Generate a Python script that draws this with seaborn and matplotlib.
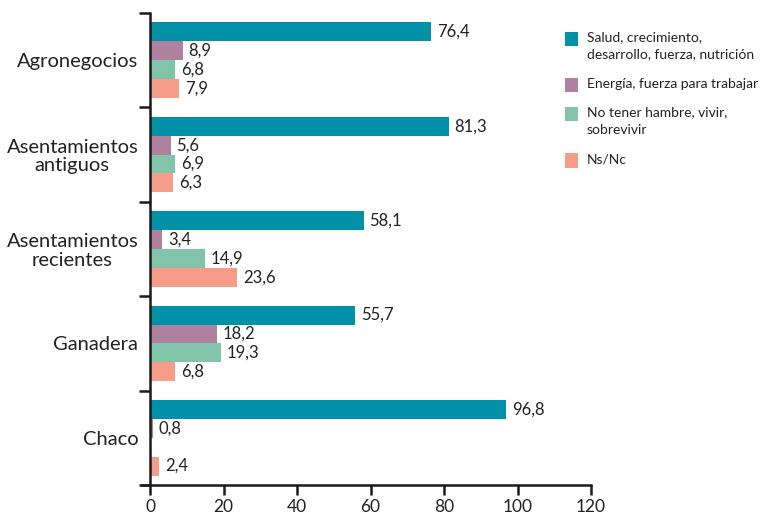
import matplotlib
matplotlib.use("Agg")
import matplotlib.pyplot as plt
from matplotlib.patches import Rectangle
from matplotlib.ticker import FixedLocator
import numpy as np
import pandas as pd
import seaborn as sns

categorias = ["Agronegocios", "Asentamientos\nantiguos", "Asentamientos\nrecientes", "Ganadera", "Chaco"]
series = ["Salud, crecimiento,\ndesarrollo, fuerza, nutrición",
          "Energía, fuerza para trabajar",
          "No tener hambre, vivir,\nsobrevivir",
          "Ns/Nc"]
salud = [76.4, 81.3, 58.1, 55.7, 96.8]
energia = [8.9, 5.6, 3.4, 18.2, 0.8]
hambre = [6.8, 6.9, 14.9, 19.3, np.nan]
nsnc = [7.9, 6.3, 23.6, 6.8, 2.4]
colores = ["#0091A8", "#AE829E", "#82C4AA", "#F69D89"]

valores = [salud, energia, hambre, nsnc]
filas = []
for serie, vals in zip(series, valores):
    for cat, v in zip(categorias, vals):
        filas.append({"categoria": cat, "serie": serie, "valor": v})
df = pd.DataFrame(filas)

sns.set_style("white")
plt.rcParams["font.family"] = ["Lato", "DejaVu Sans"]

W, H = 773, 517
fig = plt.figure(figsize=(W / 100, H / 100), dpi=100)
x0 = 150 - 2.2 * 441 / 120
ax = fig.add_axes([x0 / W, 1 - 485 / H, (591 - x0) / W, (485 - 13) / H])

sns.barplot(data=df, y="categoria", x="valor", hue="serie", order=categorias,
            hue_order=series, palette=colores, orient="h", width=0.8,
            saturation=1, linewidth=0, legend=False, ax=ax)

# value labels at the end of each bar
for cont, vals in zip(ax.containers, valores):
    for bar, v in zip(cont, vals):
        if np.isnan(v):
            continue
        ax.annotate(f"{v:.1f}".replace(".", ","),
                    (bar.get_width(), bar.get_y() + bar.get_height() / 2),
                    xytext=(4.3, 0), textcoords="offset points",
                    va="center", ha="left", fontsize=12, color="#222222")

ax.set_xlim(-2.2, 120)
ax.set_ylim(4.5, -0.5)
ax.set_xticks([0, 20, 40, 60, 80, 100, 120])
ax.set_xlabel("")
ax.set_ylabel("")

for s in ["top", "right"]:
    ax.spines[s].set_visible(False)
ax.spines["left"].set_position(("data", 0))
for s in ["left", "bottom"]:
    ax.spines[s].set_linewidth(1.8)
    ax.spines[s].set_color("#1a1a1a")

ax.tick_params(axis="x", length=7, width=1.8, color="#1a1a1a",
               labelsize=12.5, labelcolor="#222222", pad=3, direction="out", bottom=True)
ax.tick_params(axis="y", which="major", length=0, labelsize=14.5,
               labelcolor="#222222", pad=8.5)
ax.yaxis.set_minor_locator(FixedLocator(np.arange(-0.5, 5, 1)))
ax.tick_params(axis="y", which="minor", length=8, width=1.8, color="#1a1a1a",
               direction="out", left=True)
for lab in ax.get_yticklabels():
    lab.set_multialignment("center")
    lab.set_linespacing(1.1)

# legend: square key aligned with the first line of each entry
line_h = 18
gap = 28.5
y = 39
for serie, color in zip(series, colores):
    fig.add_artist(Rectangle((565 / W, 1 - (y + 7) / H), 13 / W, 14 / H,
                             transform=fig.transFigure, facecolor=color,
                             edgecolor="none"))
    fig.text(587 / W, 1 - (y - 7.5) / H, serie, fontsize=10, color="#222222",
             va="top", ha="left", linespacing=1.5)
    y += (serie.count("\n")) * line_h + gap

fig.savefig("out.png", dpi=100)
